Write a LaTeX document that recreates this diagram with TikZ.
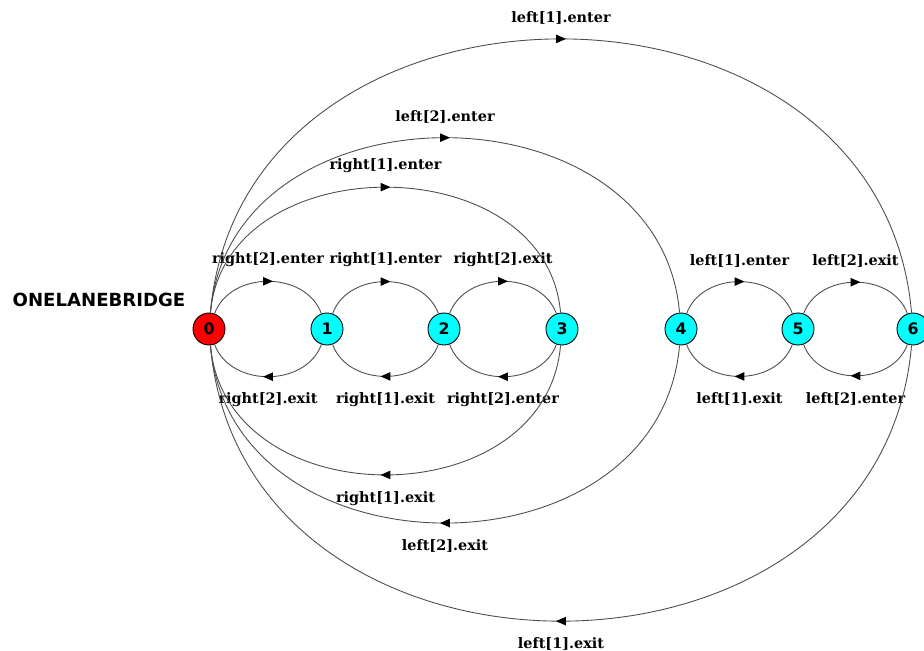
\documentclass[tikz,border=0pt]{standalone}
\usepackage{fontspec}
\newfontfamily\lblfont{DejaVu Serif}
\newfontfamily\statefont{DejaVu Sans}
\usetikzlibrary{arrows.meta,decorations.markings}
\definecolor{statecyan}{RGB}{0,255,255}
\definecolor{statered}{RGB}{255,0,0}

\tikzset{
  state/.style={circle,draw=black,line width=0.5pt,fill=statecyan,minimum size=0.64cm,inner sep=0pt,
    font=\statefont\bfseries\fontsize{9}{10}\selectfont},
  trans/.style={draw=black!70,line width=0.5pt,postaction={decorate},
    decoration={markings,mark=at position 0.5 with {\pgftransformxshift{2.8pt}\arrow{Triangle[length=5.6pt,width=4.8pt,color=black]}}}},
  lbl/.style={font=\lblfont\bfseries\fontsize{8.2}{10}\selectfont,inner sep=2pt,text=black}
}

\begin{document}
\begin{tikzpicture}[x=0.02cm,y=0.02cm]
\useasboundingbox (0,0) rectangle (924,-650);

\draw(99,-300) node[font=\statefont\bfseries\fontsize{10.3}{12}\selectfont](title){ONELANEBRIDGE};

\draw(209,-329) node[state,fill=statered](0){0};
\draw(327,-329) node[state](1){1};
\draw(444,-329) node[state](2){2};
\draw(562,-329) node[state](3){3};
\draw(681,-329) node[state](4){4};
\draw(798,-329) node[state](5){5};
\draw(913,-329) node[state](6){6};

% small arcs, upper side
\draw[trans] (0) to[out=70,in=110,looseness=1.1] node[lbl,above=6pt]{right[2].enter} (1);
\draw[trans] (1) to[out=70,in=110,looseness=1.1] node[lbl,above=6pt]{right[1].enter} (2);
\draw[trans] (2) to[out=70,in=110,looseness=1.1] node[lbl,above=6pt]{right[2].exit} (3);
\draw[trans] (4) to[out=70,in=110,looseness=1.1] node[lbl,above=6pt]{left[1].enter} (5);
\draw[trans] (5) to[out=70,in=110,looseness=1.1] node[lbl,above=6pt]{left[2].exit} (6);

% small arcs, lower side
\draw[trans] (1) to[out=250,in=290,looseness=1.1] node[lbl,below=7pt]{right[2].exit} (0);
\draw[trans] (2) to[out=250,in=290,looseness=1.1] node[lbl,below=7pt]{right[1].exit} (1);
\draw[trans] (3) to[out=250,in=290,looseness=1.1] node[lbl,below=7pt]{right[2].enter} (2);
\draw[trans] (5) to[out=250,in=290,looseness=1.1] node[lbl,below=7pt]{left[1].exit} (4);
\draw[trans] (6) to[out=250,in=290,looseness=1.1] node[lbl,below=7pt]{left[2].enter} (5);

% long arcs
\draw[trans] (0) to[out=85,in=95,looseness=1.23] node[lbl,above=6pt]{right[1].enter} (3);
\draw[trans] (0) to[out=85,in=95,looseness=1.28] node[lbl,above=6pt]{left[2].enter} (4);
\draw[trans] (0) to[out=85,in=95,looseness=1.34] node[lbl,above=6pt]{left[1].enter} (6);
\draw[trans] (3) to[out=265,in=275,looseness=1.27] node[lbl,below=7pt]{right[1].exit} (0);
\draw[trans] (4) to[out=265,in=275,looseness=1.30] node[lbl,below=7pt]{left[2].exit} (0);
\draw[trans] (6) to[out=265,in=275,looseness=1.35] node[lbl,below=7pt]{left[1].exit} (0);

\end{tikzpicture}
\end{document}
